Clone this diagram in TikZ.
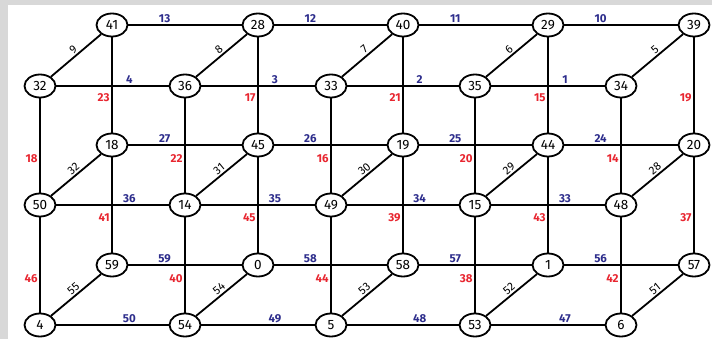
\documentclass[tikz,border=0pt]{standalone}
\usepackage{fontspec}
\setmainfont{Fira Sans}
\usetikzlibrary{shapes.geometric}
\definecolor{lblue}{RGB}{45,45,140}
\definecolor{lred}{RGB}{232,38,48}
\definecolor{bgray}{RGB}{216,216,216}
\begin{document}
\begin{tikzpicture}[x=1pt,y=-1pt,
  vtx/.style={ellipse,draw,line width=1.8pt,fill=white,minimum width=31pt,minimum height=23pt,inner sep=0pt,font=\fontsize{13.5}{13.5}\selectfont},
  edge/.style={line width=1.8pt},
  lab/.style={font=\fontsize{11.5}{11.5}\selectfont\bfseries,inner sep=1.5pt},
  bl/.style={lab,text=lblue,above},
  rl/.style={lab,text=lred,left},
  dl/.style={font=\fontsize{11.5}{11.5}\selectfont,inner sep=1.5pt,text=black,sloped,above,pos=0.53}]
\fill[bgray] (0,0) rectangle (712,339);
\fill[white] (8,5) rectangle (712,339);
\useasboundingbox (0,0) rectangle (712,339);
\foreach \n/\x/\y in {41/112/25,28/258/25,40/403/25,29/548/25,39/694/25,
                      18/112/145,45/258/145,19/403/145,44/548/145,20/694/145,
                      59/112/265,0/258/265,58/403/265,1/548/265,57/694/265,
                      32/40/86,36/185/86,33/331/86,35/475/86,34/621/86,
                      50/40/205,14/185/205,49/331/205,15/475/205,48/621/205,
                      4/40/325,54/185/325,5/331/325,53/475/325,6/621/325}
  \node[vtx] (n\n) at (\x,\y) {\n};
% back horizontals
\foreach \a/\b/\l in {41/28/13,28/40/12,40/29/11,29/39/10,
                      18/45/27,45/19/26,19/44/25,44/20/24,
                      59/0/59,0/58/58,58/1/57,1/57/56}
  \draw[edge] (n\a) -- node[bl,pos=0.32]{\l} (n\b);
% front horizontals
\foreach \a/\b/\l in {32/36/4,36/33/3,33/35/2,35/34/1,
                      50/14/36,14/49/35,49/15/34,15/48/33,
                      4/54/50,54/5/49,5/53/48,53/6/47}
  \draw[edge] (n\a) -- node[bl,pos=0.65]{\l} (n\b);
% diagonals
\foreach \a/\b/\l in {32/41/9,36/28/8,33/40/7,35/29/6,34/39/5,
                      50/18/32,14/45/31,49/19/30,15/44/29,48/20/28,
                      4/59/55,54/0/54,5/58/53,53/1/52,6/57/51}
  \draw[edge] (n\a) -- node[dl]{\l} (n\b);
% back verticals
\foreach \a/\b/\l in {41/18/23,28/45/17,40/19/21,29/44/15,39/20/19,
                      18/59/41,45/0/45,19/58/39,44/1/43,20/57/37}
  \draw[edge] (n\a) -- node[rl,pos=0.63]{\l} (n\b);
% front verticals
\foreach \a/\b/\l in {32/50/18,36/14/22,33/49/16,35/15/20,34/48/14,
                      50/4/46,14/54/40,49/5/44,15/53/38,48/6/42}
  \draw[edge] (n\a) -- node[rl,pos=0.64]{\l} (n\b);
\end{tikzpicture}
\end{document}
